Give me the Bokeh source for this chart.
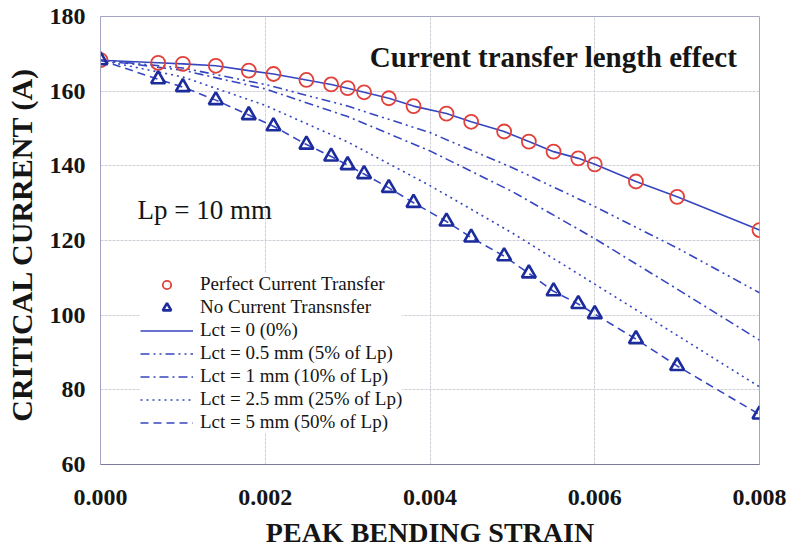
from bokeh.plotting import figure
from bokeh.models import (Range1d, FixedTicker, NumeralTickFormatter, Legend, LegendItem, Label)
from bokeh.embed import file_html
from bokeh.resources import INLINE

# ---- data ----
strain_pts = [0, 0.0007, 0.001, 0.0014, 0.0018, 0.0021, 0.0025, 0.0028, 0.003, 0.0032, 0.0035,
              0.0038, 0.0042, 0.0045, 0.0049, 0.0052, 0.0055, 0.0058, 0.006, 0.0065, 0.007, 0.008]
ic_perfect = [168.3, 167.6, 167.3, 166.8, 165.5, 164.6, 163.0, 161.8, 160.8, 159.7, 158.1,
              156.0, 154.0, 151.8, 149.2, 146.5, 143.8, 142.0, 140.4, 135.8, 131.7, 122.8]
ic_none = [168.3, 163.2, 161.1, 157.6, 153.6, 150.6, 145.7, 142.5, 140.2, 137.8, 134.1,
           130.1, 125.1, 120.8, 115.8, 111.2, 106.4, 103.0, 100.3, 93.6, 86.4, 73.4]

strain_model = [0, 0.001, 0.002, 0.003, 0.004, 0.005, 0.006, 0.007, 0.008]
lct_0_5 = [168.3, 166.2, 161.8, 156.0, 148.9, 139.5, 129.1, 118.0, 106.0]
lct_1 = [168.3, 165.6, 160.6, 153.2, 144.0, 133.1, 120.5, 107.0, 93.3]
lct_2_5 = [168.3, 163.8, 156.2, 146.4, 134.7, 122.0, 108.3, 94.6, 80.8]

x_ticks = [0, 0.002, 0.004, 0.006, 0.008]
y_ticks = [60, 80, 100, 120, 140, 160, 180]

labels = ["Perfect Current Transfer", "No Current Transnsfer", "Lct = 0 (0%)",
          "Lct = 0.5 mm (5% of Lp)", "Lct = 1 mm (10% of Lp)",
          "Lct = 2.5 mm (25% of Lp)", "Lct = 5 mm (50% of Lp)"]

SERIF = "Times New Roman, Liberation Serif, serif"
SERIF_B = "Liberation Serif"
LINE_C = "#3646c0"

p = figure(width=786, height=550, output_backend="svg", toolbar_location=None,
           x_range=Range1d(0, 0.008), y_range=Range1d(60, 180),
           min_border_left=100, min_border_right=27, min_border_top=16, min_border_bottom=86)
p.background_fill_color = "white"
p.border_fill_color = "white"
p.outline_line_color = "#a4a4c4"
p.outline_line_width = 1

# grid
p.xgrid.ticker = FixedTicker(ticks=x_ticks)
p.ygrid.ticker = FixedTicker(ticks=y_ticks)
for g in (p.xgrid, p.ygrid):
    g.grid_line_color = "#cfcfd8"
    g.grid_line_width = 1
    g.grid_line_dash = "3 1"

# axes
p.xaxis.ticker = FixedTicker(ticks=x_ticks)
p.yaxis.ticker = FixedTicker(ticks=y_ticks)
p.xaxis.formatter = NumeralTickFormatter(format="0.000")
p.xaxis.axis_label = "PEAK BENDING STRAIN"
p.yaxis.axis_label = "CRITICAL CURRENT  (A)"
for ax in (p.xaxis, p.yaxis):
    ax.major_label_text_font = SERIF_B
    ax.major_label_text_font_style = "bold"
    ax.major_label_text_font_size = "24px"
    ax.major_label_text_color = "#151515"
    ax.axis_label_text_font = SERIF_B
    ax.axis_label_text_font_style = "bold"
    ax.axis_label_text_font_size = "28px"
    ax.axis_label_text_color = "#151515"
    ax.minor_tick_line_color = None
    ax.major_tick_in = 0
    ax.major_tick_out = 0
    ax.major_tick_line_color = "#b0b0c0"
p.yaxis.axis_label_text_font_size = "30px"
p.xaxis.axis_line_color = "#7a7a9a"
p.yaxis.axis_line_color = "#a4a4c4"
p.xaxis.major_label_standoff = 25
p.xaxis.axis_label_standoff = 9
p.yaxis.major_label_standoff = 15
p.yaxis.axis_label_standoff = 9

# model lines
r_l0 = p.line(strain_pts, ic_perfect, line_color=LINE_C, line_width=1.6)
r_l05 = p.line(strain_model, lct_0_5, line_color=LINE_C, line_width=1.6, line_dash="9 4 2 4 2 4")
r_l1 = p.line(strain_model, lct_1, line_color=LINE_C, line_width=1.6, line_dash="9 4 2 4")
r_l25 = p.line(strain_model, lct_2_5, line_color=LINE_C, line_width=1.6, line_dash="2 4")
r_l5 = p.line(strain_pts, ic_none, line_color=LINE_C, line_width=1.6, line_dash="8 5")

# markers
r_perf = p.scatter(strain_pts, ic_perfect, marker="circle", size=14, fill_color=None,
                   line_color="#e2403a", line_width=1.8)
r_none = p.scatter(strain_pts, ic_none, marker="triangle", size=14, fill_color=None,
                   line_color="#1c2c9c", line_width=2.6)

legend = Legend(items=[
    LegendItem(label=labels[0], renderers=[r_perf]),
    LegendItem(label=labels[1], renderers=[r_none]),
    LegendItem(label=labels[2], renderers=[r_l0]),
    LegendItem(label=labels[3], renderers=[r_l05]),
    LegendItem(label=labels[4], renderers=[r_l1]),
    LegendItem(label=labels[5], renderers=[r_l25]),
    LegendItem(label=labels[6], renderers=[r_l5]),
], location=(40, 31))
legend.label_text_font = SERIF
legend.label_text_font_size = "19px"
legend.label_text_color = "#151515"
legend.label_height = 21
legend.glyph_height = 21
legend.glyph_width = 53
legend.label_standoff = 7
legend.spacing = 1
legend.padding = 5
legend.margin = 0
legend.border_line_color = None
legend.background_fill_color = "white"
legend.background_fill_alpha = 1.0
p.add_layout(legend)

p.add_layout(Label(x=0.00327, y=169.1, text="Current transfer length effect",
                   text_font=SERIF_B, text_font_style="bold", text_font_size="29px",
                   text_color="#151515", text_baseline="middle"))
p.add_layout(Label(x=0.00045, y=128.3, text="Lp = 10 mm",
                   text_font=SERIF, text_font_size="27px",
                   text_color="#151515", text_baseline="middle"))

open("out.html", "w").write(file_html(p, INLINE))
